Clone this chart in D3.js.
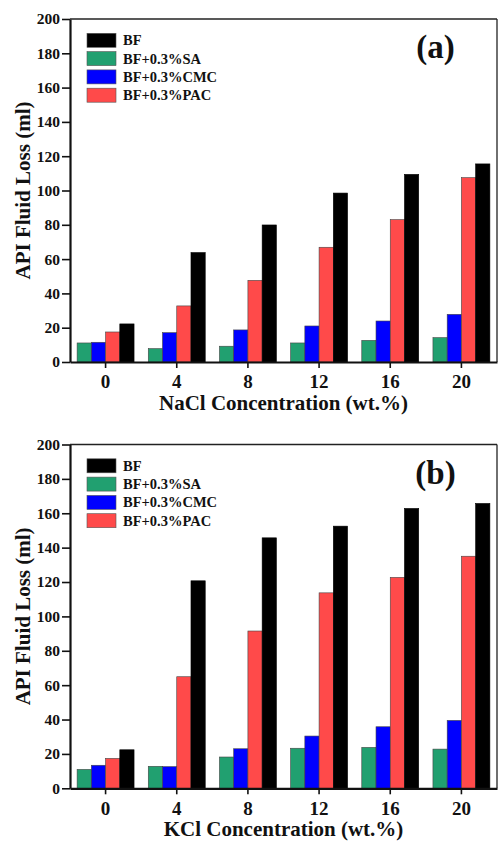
<!DOCTYPE html>
<html>
<head>
<meta charset="utf-8">
<script src="https://cdn.jsdelivr.net/npm/d3@7/dist/d3.min.js"></script>
<style>
  html, body { margin: 0; padding: 0; background: #fff; }
  svg { display: block; }
  text { font-family: "Liberation Serif", "Times New Roman", serif; font-weight: bold; fill: #111; }
</style>
</head>
<body>
<svg id="chart" width="498" height="841"></svg>
<script>
// ---- data ----
const categories = ["0", "4", "8", "12", "16", "20"];
const seriesNames = ["BF+0.3%SA", "BF+0.3%CMC", "BF+0.3%PAC", "BF"];
const legendOrder = ["BF", "BF+0.3%SA", "BF+0.3%CMC", "BF+0.3%PAC"];
const yTicks = [0, 20, 40, 60, 80, 100, 120, 140, 160, 180, 200];

// Panel (a) NaCl
const naclSA  = [11.1, 7.8, 9.2, 11.1, 12.6, 14.2];
const naclCMC = [11.5, 17.1, 18.7, 21.0, 23.9, 27.8];
const naclPAC = [17.5, 32.7, 47.6, 66.9, 83.0, 107.5];
const naclBF  = [22.2, 63.8, 79.9, 98.5, 109.4, 115.5];

// Panel (b) KCl
const kclSA  = [11.0, 12.8, 18.2, 23.3, 23.8, 22.8];
const kclCMC = [13.4, 12.6, 23.0, 30.4, 35.8, 39.5];
const kclPAC = [17.4, 64.9, 91.5, 113.7, 122.7, 135.0];
const kclBF  = [22.4, 120.7, 145.7, 152.5, 162.8, 165.7];

const colors = {
  "BF": "#000000",
  "BF+0.3%SA": "#21a070",
  "BF+0.3%CMC": "#0000ff",
  "BF+0.3%PAC": "#ff4a4a"
};

const panels = [
  { label: "(a)", xTitle: "NaCl Concentration (wt.%)", top: 19, bottom: 362,
    values: { "BF+0.3%SA": naclSA, "BF+0.3%CMC": naclCMC, "BF+0.3%PAC": naclPAC, "BF": naclBF } },
  { label: "(b)", xTitle: "KCl Concentration (wt.%)", top: 444.5, bottom: 788.3,
    values: { "BF+0.3%SA": kclSA, "BF+0.3%CMC": kclCMC, "BF+0.3%PAC": kclPAC, "BF": kclBF } }
];

const svg = d3.select("#chart");
const left = 70, right = 497;

panels.forEach(p => {
  const g = svg.append("g");
  const x = d3.scaleBand().domain(categories).range([left, right]).paddingInner(0.2).paddingOuter(0.1);
  const xs = d3.scaleBand().domain(seriesNames).range([0, x.bandwidth()]);
  const y = d3.scaleLinear().domain([0, 200]).range([p.bottom, p.top]);

  // bars
  seriesNames.forEach(s => {
    g.append("g").selectAll("rect").data(p.values[s]).join("rect")
      .attr("x", (d, i) => x(categories[i]) + xs(s))
      .attr("width", xs.bandwidth())
      .attr("y", d => y(d))
      .attr("height", d => y(0) - y(d))
      .attr("fill", colors[s])
      .attr("stroke", s === "BF" ? "#000" : "#444")
      .attr("stroke-width", 0.6);
  });

  // frame top/right
  g.append("line").attr("x1", left).attr("x2", right).attr("y1", p.top).attr("y2", p.top)
    .attr("stroke", "#222").attr("stroke-width", 1.3);
  g.append("line").attr("x1", right).attr("x2", right).attr("y1", p.top).attr("y2", p.bottom)
    .attr("stroke", "#222").attr("stroke-width", 1.3);

  // y axis
  const ya = g.append("g").attr("transform", `translate(${left},0)`)
    .call(d3.axisLeft(y).tickValues(yTicks).tickSize(8).tickPadding(2).tickSizeOuter(0));
  ya.select(".domain").attr("stroke", "#111").attr("stroke-width", 2.2);
  ya.selectAll(".tick line").attr("stroke", "#111").attr("stroke-width", 1.6);
  ya.selectAll(".tick text").attr("font-size", 15.5).attr("font-family", "Liberation Serif")
    .attr("font-weight", "bold").attr("fill", "#111");

  // x axis
  const xa = g.append("g").attr("transform", `translate(0,${p.bottom})`)
    .call(d3.axisBottom(x).tickSize(6).tickPadding(7).tickSizeOuter(0));
  xa.select(".domain").attr("stroke", "#111").attr("stroke-width", 2.2);
  xa.selectAll(".tick line").attr("stroke", "#111").attr("stroke-width", 1.6);
  xa.selectAll(".tick text").attr("font-size", 19).attr("font-family", "Liberation Serif")
    .attr("font-weight", "bold").attr("fill", "#111");

  // titles
  g.append("text").attr("x", (left + right) / 2).attr("y", p.bottom + 48)
    .attr("text-anchor", "middle").attr("font-size", 21).text(p.xTitle);
  g.append("text").attr("transform", `translate(30,${(p.top + p.bottom) / 2}) rotate(-90)`)
    .attr("text-anchor", "middle").attr("font-size", 21).text("API Fluid Loss (ml)");

  // panel label
  g.append("text").attr("x", 435.5).attr("y", p.top + 39)
    .attr("text-anchor", "middle").attr("font-size", 33).text(p.label);

  // legend
  const lg = g.append("g").attr("transform", `translate(87,${p.top + 14.3})`);
  legendOrder.forEach((s, i) => {
    const row = lg.append("g").attr("transform", `translate(0,${i * 18.3})`);
    row.append("rect").attr("width", 29).attr("height", 14).attr("fill", colors[s])
      .attr("stroke", "#555").attr("stroke-width", 0.6);
    row.append("text").attr("x", 36).attr("y", 12).attr("font-size", 14.5).text(s);
  });
});
</script>
</body>
</html>
